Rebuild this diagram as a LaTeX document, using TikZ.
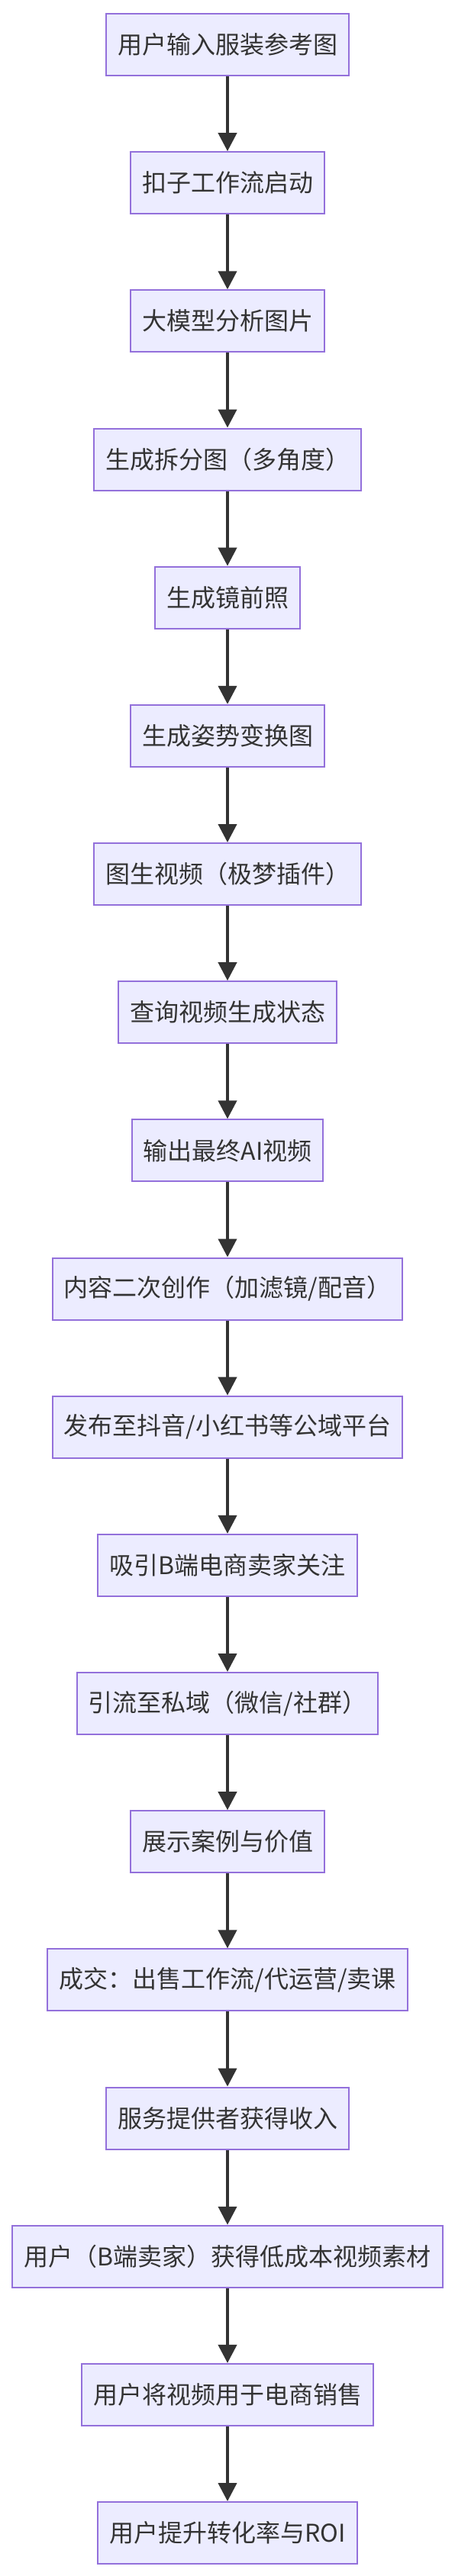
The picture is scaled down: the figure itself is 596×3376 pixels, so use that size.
\documentclass[tikz,border=0pt]{standalone}
\usepackage{fontspec}
\setmainfont{Noto Sans CJK SC}
\usetikzlibrary{arrows.meta}
\definecolor{boxfill}{HTML}{ECECFF}
\definecolor{boxline}{HTML}{9370DB}
\definecolor{ink}{HTML}{333333}
\tikzset{
  flowbox/.style={draw=boxline, fill=boxfill, line width=2pt, rectangle,
    minimum height=81pt, inner xsep=15pt, inner ysep=0pt, text=ink,
    font=\fontsize{32pt}{38pt}\selectfont, anchor=center},
  flowarrow/.style={draw=ink, line width=4pt,
    -{Triangle[length=24pt,width=24pt]}}
}
\begin{document}
\begin{tikzpicture}[x=1pt,y=1pt]
\useasboundingbox (0,0) rectangle (596,-3376);
\def\py#1{-(18+40.5+181.17*#1)}
\node[flowbox] (n1)  at (298,{\py{0}})  {用户输入服装参考图};
\node[flowbox] (n2)  at (298,{\py{1}})  {扣子工作流启动};
\node[flowbox] (n3)  at (298,{\py{2}})  {大模型分析图片};
\node[flowbox] (n4)  at (298,{\py{3}})  {生成拆分图（多角度）};
\node[flowbox] (n5)  at (298,{\py{4}})  {生成镜前照};
\node[flowbox] (n6)  at (298,{\py{5}})  {生成姿势变换图};
\node[flowbox] (n7)  at (298,{\py{6}})  {图生视频（极梦插件）};
\node[flowbox] (n8)  at (298,{\py{7}})  {查询视频生成状态};
\node[flowbox] (n9)  at (298,{\py{8}})  {输出最终AI视频};
\node[flowbox] (n10) at (298,{\py{9}})  {内容二次创作（加滤镜/配音）};
\node[flowbox] (n11) at (298,{\py{10}}) {发布至抖音/小红书等公域平台};
\node[flowbox] (n12) at (298,{\py{11}}) {吸引B端电商卖家关注};
\node[flowbox] (n13) at (298,{\py{12}}) {引流至私域（微信/社群）};
\node[flowbox] (n14) at (298,{\py{13}}) {展示案例与价值};
\node[flowbox] (n15) at (298,{\py{14}}) {成交：出售工作流/代运营/卖课};
\node[flowbox] (n16) at (298,{\py{15}}) {服务提供者获得收入};
\node[flowbox] (n17) at (298,{\py{16}}) {用户（B端卖家）获得低成本视频素材};
\node[flowbox] (n18) at (298,{\py{17}}) {用户将视频用于电商销售};
\node[flowbox] (n19) at (298,{\py{18}}) {用户提升转化率与ROI};
\foreach \a/\b in {n1/n2,n2/n3,n3/n4,n4/n5,n5/n6,n6/n7,n7/n8,n8/n9,n9/n10,n10/n11,n11/n12,n12/n13,n13/n14,n14/n15,n15/n16,n16/n17,n17/n18,n18/n19}
  \draw[flowarrow] (\a.south) -- (\b.north);
\end{tikzpicture}
\end{document}
